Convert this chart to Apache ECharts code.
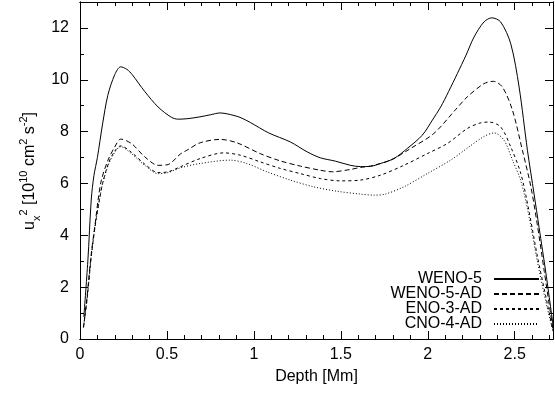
<!DOCTYPE html>
<html>
<head>
<meta charset="utf-8">
<script src="https://cdn.jsdelivr.net/npm/echarts@6/dist/echarts.min.js"></script>
<style>html,body{margin:0;padding:0;background:#fff}#c{width:555px;height:393px}</style>
</head>
<body>
<div id="c"></div>
<script>
// ---- data ----
const seriesNames = ['WENO-5', 'WENO-5-AD', 'ENO-3-AD', 'CNO-4-AD'];

const weno5X = [0.022, 0.045, 0.065, 0.08, 0.1, 0.13, 0.16, 0.2, 0.234, 0.27, 0.3, 0.372, 0.449, 0.526, 0.565, 0.62, 0.69, 0.75, 0.806, 0.85, 0.92, 0.98, 1.085, 1.21, 1.306, 1.382, 1.469, 1.555, 1.613, 1.67, 1.728, 1.805, 1.882, 1.968, 2.026, 2.074, 2.12, 2.17, 2.22, 2.266, 2.323, 2.368, 2.419, 2.477, 2.525, 2.573, 2.611, 2.64, 2.679, 2.722];
const weno5Y = [0.85, 3.0, 5.4, 6.3, 7.0, 8.3, 9.4, 10.2, 10.5, 10.4, 10.2, 9.55, 8.95, 8.55, 8.48, 8.5, 8.57, 8.65, 8.72, 8.68, 8.55, 8.35, 7.95, 7.6, 7.22, 6.99, 6.86, 6.7, 6.65, 6.66, 6.77, 6.96, 7.35, 7.86, 8.44, 8.95, 9.55, 10.24, 10.95, 11.65, 12.23, 12.39, 12.23, 11.39, 9.72, 7.28, 5.6, 4.3, 2.55, 0.45];

const weno5adX = [0.02, 0.04, 0.065, 0.09, 0.104, 0.123, 0.161, 0.2, 0.234, 0.296, 0.372, 0.449, 0.507, 0.576, 0.622, 0.691, 0.806, 0.902, 1.037, 1.152, 1.267, 1.382, 1.45, 1.555, 1.613, 1.67, 1.786, 1.901, 2.035, 2.16, 2.227, 2.323, 2.377, 2.429, 2.487, 2.544, 2.592, 2.63, 2.67, 2.72];
const weno5adY = [0.45, 1.6, 3.3, 4.6, 5.36, 6.13, 6.9, 7.41, 7.71, 7.54, 7.03, 6.7, 6.73, 7.13, 7.31, 7.57, 7.7, 7.57, 7.15, 6.87, 6.67, 6.51, 6.45, 6.54, 6.62, 6.67, 6.9, 7.35, 7.93, 8.85, 9.34, 9.85, 9.94, 9.72, 8.82, 7.28, 5.9, 4.4, 2.6, 0.35];

const eno3adX = [0.02, 0.04, 0.065, 0.09, 0.11, 0.13, 0.165, 0.2, 0.234, 0.296, 0.372, 0.449, 0.507, 0.576, 0.691, 0.826, 0.922, 1.037, 1.152, 1.267, 1.382, 1.498, 1.613, 1.728, 1.862, 1.997, 2.112, 2.227, 2.3, 2.352, 2.419, 2.477, 2.535, 2.58, 2.63, 2.68, 2.72];
const eno3adY = [0.45, 1.5, 3.2, 4.5, 5.3, 6.0, 6.8, 7.25, 7.45, 7.2, 6.75, 6.42, 6.45, 6.64, 6.96, 7.18, 7.09, 6.83, 6.58, 6.38, 6.19, 6.1, 6.13, 6.32, 6.7, 7.15, 7.54, 8.12, 8.33, 8.37, 8.18, 7.41, 6.38, 5.0, 3.2, 1.6, 0.3];

const cno4adX = [0.02, 0.04, 0.065, 0.09, 0.11, 0.13, 0.165, 0.2, 0.234, 0.296, 0.372, 0.449, 0.507, 0.576, 0.691, 0.864, 0.96, 1.075, 1.21, 1.344, 1.478, 1.613, 1.69, 1.75, 1.862, 1.997, 2.131, 2.237, 2.32, 2.381, 2.438, 2.487, 2.535, 2.58, 2.63, 2.68, 2.72];
const cno4adY = [0.45, 1.5, 3.2, 4.5, 5.3, 6.0, 6.75, 7.2, 7.42, 7.15, 6.7, 6.38, 6.42, 6.6, 6.77, 6.9, 6.77, 6.45, 6.13, 5.87, 5.7, 5.59, 5.55, 5.58, 5.87, 6.38, 6.9, 7.41, 7.8, 7.95, 7.67, 6.9, 6.1, 4.8, 3.0, 1.4, 0.3];

const xMin = 0, xMax = 2.72, xMajor = 0.5, xMinor = 0.1;
const yMin = 0, yMax = 13, yMajor = 2, yMinor = 1;
const yTickLabels = ['0', '2', '4', '6', '8', '10', '12'];
const xTickLabels = ['0', '0.5', '1', '1.5', '2', '2.5'];

// ---- chart ----
const FONT = 'Liberation Sans, Arial, Helvetica, sans-serif';
const FS = 16;
const BLACK = '#000';
const pairs = (xs, ys) => xs.map((x, i) => [x, ys[i]]);

const dashes = [null, [5, 3], [3, 3], [1, 2]];
const seriesData = [pairs(weno5X, weno5Y), pairs(weno5adX, weno5adY), pairs(eno3adX, eno3adY), pairs(cno4adX, cno4adY)];

function near(v, step) { return Math.abs(v / step - Math.round(v / step)) < 1e-6; }

function xAx(pos, interval, len, labels, extra) {
  return Object.assign({
    type: 'value', min: xMin, max: xMax, interval: interval, position: pos,
    axisLine: { show: true, onZero: false, lineStyle: { color: BLACK, width: 1 } },
    axisTick: { show: true, inside: true, length: len, lineStyle: { color: BLACK, width: 1 } },
    axisLabel: labels ? {
      show: true, margin: 8, color: BLACK, fontFamily: FONT, fontSize: FS,
      showMaxLabel: false,
      formatter: v => (near(v, xMajor) && xTickLabels.indexOf(String(+v.toFixed(2))) >= 0) ? String(+v.toFixed(2)) : ''
    } : { show: false },
    splitLine: { show: false }
  }, extra || {});
}
function yAx(pos, interval, len, labels, extra) {
  return Object.assign({
    type: 'value', min: yMin, max: yMax, interval: interval, position: pos,
    axisLine: { show: true, onZero: false, lineStyle: { color: BLACK, width: 1 } },
    axisTick: { show: true, inside: true, length: len, lineStyle: { color: BLACK, width: 1 } },
    axisLabel: labels ? {
      show: true, margin: 11, color: BLACK, fontFamily: FONT, fontSize: FS,
      showMaxLabel: false,
      formatter: v => (yTickLabels.indexOf(String(v)) >= 0) ? String(v) : ''
    } : { show: false },
    splitLine: { show: false }
  }, extra || {});
}

const option = {
  animation: false,
  backgroundColor: '#fff',
  grid: { left: 80, right: 2, top: 2, bottom: 54, containLabel: false, outerBoundsMode: 'none' },
  xAxis: [
    xAx('bottom', xMajor, 8, true, { name: 'Depth [Mm]', nameLocation: 'middle', nameGap: 30,
      nameTextStyle: { color: BLACK, fontFamily: FONT, fontSize: FS } }),
    xAx('bottom', xMinor, 4, false),
    xAx('top', xMajor, 8, false),
    xAx('top', xMinor, 4, false)
  ],
  yAxis: [
    yAx('left', yMajor, 8, true),
    yAx('left', yMinor, 4, false),
    yAx('right', yMajor, 8, false),
    yAx('right', yMinor, 4, false)
  ],
  legend: {
    data: seriesNames,
    orient: 'vertical', align: 'right',
    right: 15, top: 271, padding: 0,
    itemWidth: 45, itemHeight: 14, itemGap: -1,
    itemStyle: { opacity: 0, borderWidth: 0 },
    textStyle: { color: BLACK, fontFamily: FONT, fontSize: FS, lineHeight: 14, padding: [0, 7, 0, 0] }
  },
  graphic: [{
    type: 'text', x: 30, y: 171, rotation: Math.PI / 2,
    style: {
      text: 'u{sub|x}{sup|2} [10{sup|10} cm{sup|2} s{sup|-2}]',
      fill: BLACK, font: FS + 'px ' + FONT, align: 'center', verticalAlign: 'middle', lineHeight: 24,
      rich: {
        sup: { fontSize: 11, fontFamily: FONT, fill: BLACK, verticalAlign: 'top', lineHeight: 11 },
        sub: { fontSize: 11, fontFamily: FONT, fill: BLACK, verticalAlign: 'bottom', lineHeight: 11 }
      }
    }
  }],
  series: seriesNames.map((n, i) => ({
    name: n, type: 'line', xAxisIndex: 0, yAxisIndex: 0,
    data: seriesData[i], smooth: 0.3, symbol: 'none', showSymbol: false,
    clip: true,
    lineStyle: { color: BLACK, width: 1, type: dashes[i] || 'solid' },
    itemStyle: { color: BLACK }
  }))
};

const chart = echarts.init(document.getElementById('c'), null, { renderer: 'canvas' });
chart.setOption(option);
</script>
</body>
</html>
